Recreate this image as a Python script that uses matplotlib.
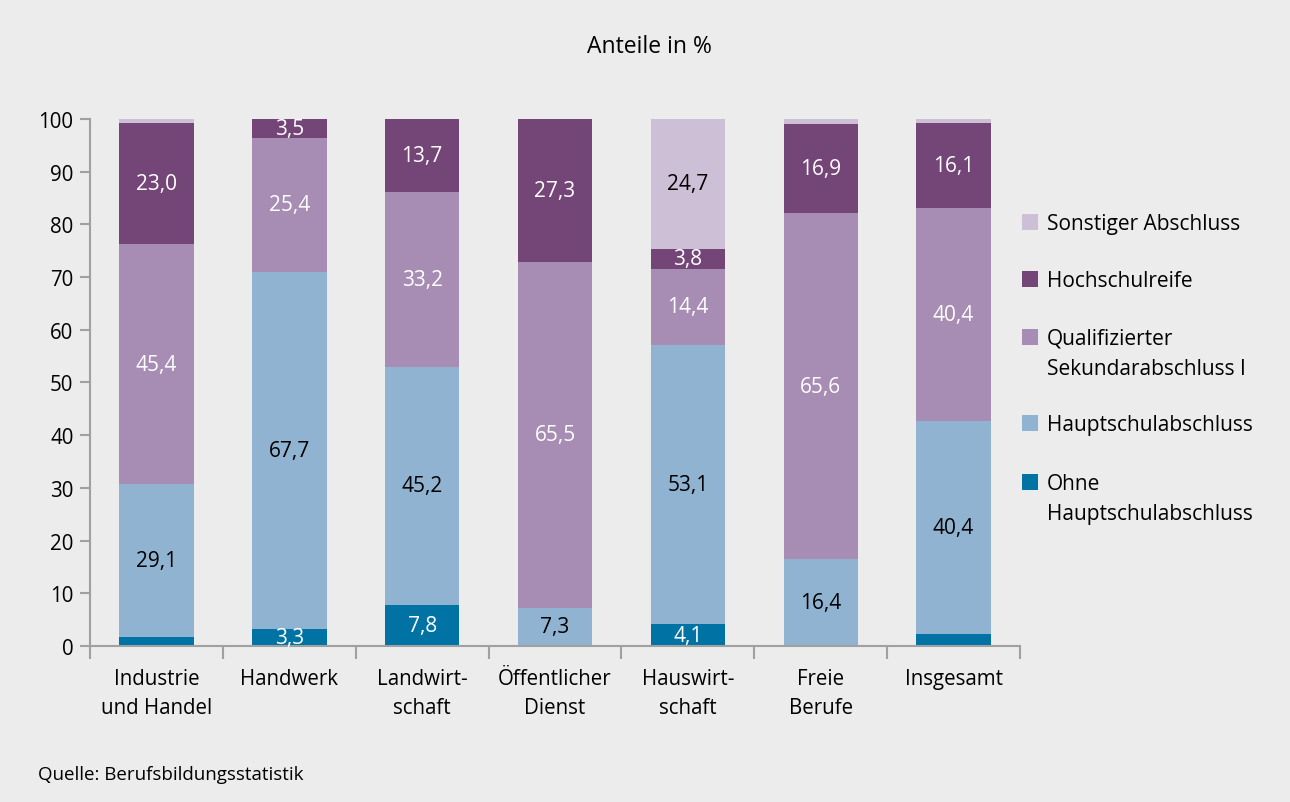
import matplotlib.pyplot as plt
from matplotlib.patches import Rectangle
import numpy as np

plt.rcParams['font.family'] = ['Open Sans', 'DejaVu Sans']

categories = ['Industrie\nund Handel', 'Handwerk', 'Landwirt-\nschaft', 'Öffentlicher\nDienst',
              'Hauswirt-\nschaft', 'Freie\nBerufe', 'Insgesamt']
series_names = ['Ohne\nHauptschulabschluss', 'Hauptschulabschluss',
                'Qualifizierter\nSekundarabschluss I', 'Hochschulreife', 'Sonstiger Abschluss']
ohne = [1.7, 3.3, 7.8, 0.0, 4.1, 0.1, 2.3]
haupt = [29.1, 67.7, 45.2, 7.3, 53.1, 16.4, 40.4]
qualif = [45.4, 25.4, 33.2, 65.5, 14.4, 65.6, 40.4]
hoch = [23.0, 3.5, 13.7, 27.3, 3.8, 16.9, 16.1]
sonst = [0.8, 0.1, 0.1, 0.0, 24.7, 1.0, 0.8]

colors = ['#0073a4', '#8fb3d0', '#a78db3', '#744678', '#cdbfd5']
label_colors = ['white', 'black', 'white', 'white', 'black']
min_label = 3.0

bg = '#ebeceb'
fig = plt.figure(figsize=(12.9, 8.03), dpi=100, facecolor=bg)
ax = fig.add_axes([0.0698, 0.1943, 0.7209, 0.6563], facecolor=bg)

x = np.arange(len(categories))
bottom = np.zeros(len(categories))
for vals, col, tcol in zip([ohne, haupt, qualif, hoch, sonst], colors, label_colors):
    vals = np.array(vals)
    ax.bar(x, vals, bottom=bottom, width=0.56, color=col, linewidth=0)
    for xi, v, b in zip(x, vals, bottom):
        if v >= min_label:
            ax.text(xi, b + v / 2, f'{v:.1f}'.replace('.', ','), ha='center', va='center',
                    fontsize=15, color=tcol)
    bottom += vals

ax.set_xlim(-0.5, len(categories) - 0.5)
ax.set_ylim(0, 100)
ax.set_yticks(range(0, 101, 10))
ax.set_xticks(x)
ax.set_xticklabels(categories, fontsize=14.8, linespacing=1.5)
ax.set_xticks(np.arange(-0.5, len(categories)), minor=True)
ax.tick_params(axis='x', which='major', length=0, pad=16)
ax.tick_params(axis='x', which='minor', length=9, width=1.5, color='#a0a0a0')
ax.tick_params(axis='y', length=7, width=1.5, color='#a0a0a0', labelsize=14.8, pad=5)

for side in ['top', 'right']:
    ax.spines[side].set_visible(False)
for side in ['left', 'bottom']:
    ax.spines[side].set_color('#a0a0a0')
    ax.spines[side].set_linewidth(1.5)

fig.text(649 / 1290, 1 - 47 / 803, 'Anteile in %', ha='center', va='center', fontsize=16.5)
fig.text(38 / 1290, 1 - 775 / 803, 'Quelle: Berufsbildungsstatistik', ha='left', va='center',
         fontsize=13.5)

# legend, top to bottom
legend_y = [223, 280, 338, 424, 483]
for name, col, ly in zip(series_names[::-1], colors[::-1], legend_y):
    fig.patches.append(Rectangle((1022 / 1290, 1 - (ly + 8) / 803), 16 / 1290, 16 / 803,
                                 transform=fig.transFigure, color=col, linewidth=0))
    fig.text(1047 / 1290, 1 - (ly - 9) / 803, name, ha='left', va='top', fontsize=15,
             linespacing=1.55)

fig.savefig('out.png', dpi=100, facecolor=bg)
